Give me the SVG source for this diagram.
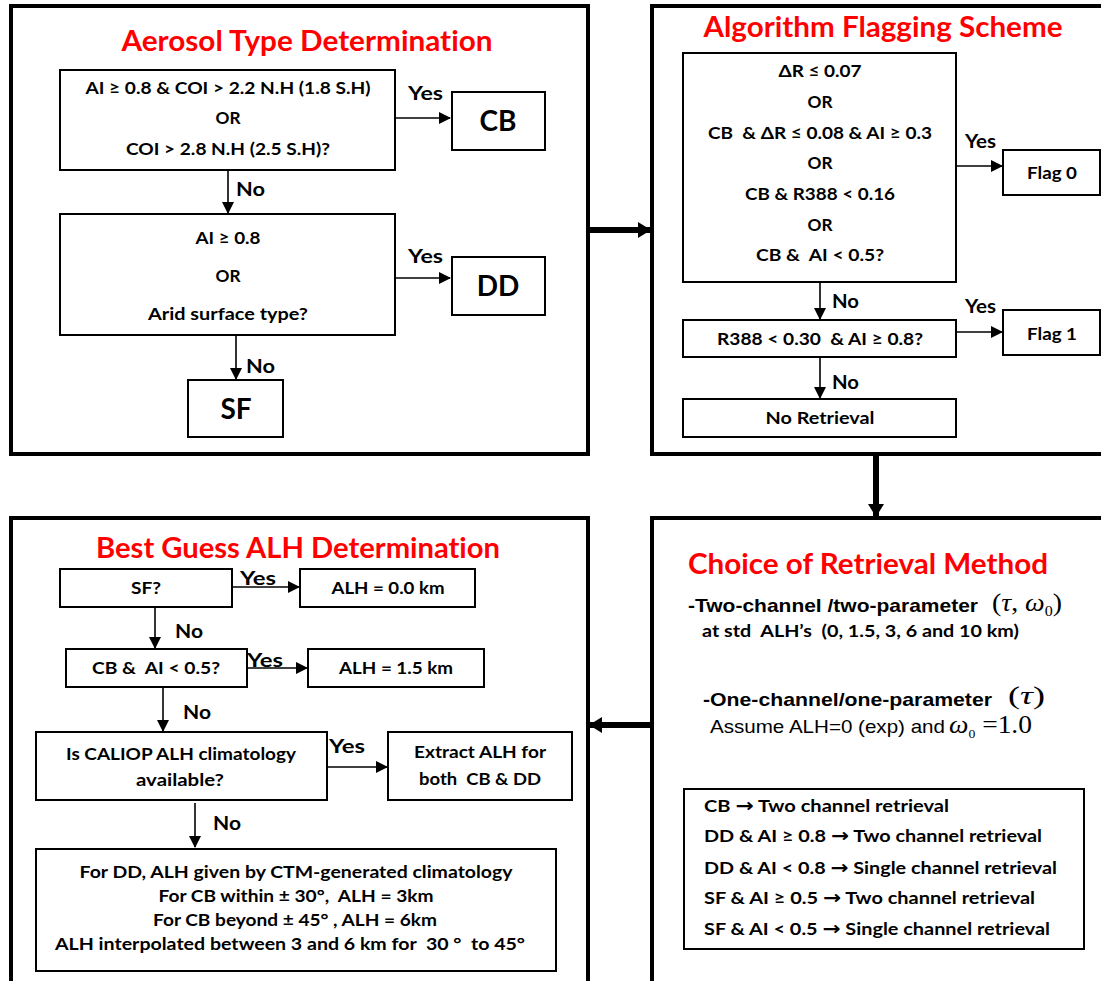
<svg xmlns="http://www.w3.org/2000/svg" width="1101" height="981" viewBox="0 0 1101 981" xml:space="preserve">
<defs>
<style>
.panel{fill:#fff;stroke:#000;stroke-width:4}
.box{fill:#fff;stroke:#000;stroke-width:2}
text{white-space:pre;font-variant-ligatures:none;font-feature-settings:"liga" 0,"clig" 0}
.t{font-family:Lato,"Liberation Sans",sans-serif;font-weight:bold;font-size:17.5px;fill:#000;text-anchor:middle}
.title{font-family:Lato,"Liberation Sans",sans-serif;font-weight:bold;font-size:29px;fill:#f00;text-anchor:middle}
.lbl{font-family:Lato,"Liberation Sans",sans-serif;font-weight:bold;font-size:19.5px;fill:#000}
.big{font-family:Lato,"Liberation Sans",sans-serif;font-weight:bold;font-size:28px;fill:#000;text-anchor:middle}
.ln{stroke:#000;stroke-width:1.6;fill:none}
.thick{stroke:#000;stroke-width:6;fill:none}
.ar{font-family:Arial,"Liberation Sans",sans-serif;fill:#000}
.math{font-family:"Liberation Serif",serif;font-size:26px;fill:#000}
.left{text-anchor:start}
.arr{font-family:"DejaVu Sans",sans-serif;font-weight:bold;font-size:19px}
</style>
<marker id="ah" markerWidth="12" markerHeight="12" refX="11" refY="6" orient="auto" markerUnits="userSpaceOnUse"><path d="M0,0 L12,6 L0,12 Z" fill="#000"/></marker>
<marker id="bh" markerWidth="18" markerHeight="18" refX="12" refY="9" orient="auto" markerUnits="userSpaceOnUse"><path d="M0,1 L13,9 L0,17 Z" fill="#000"/></marker>
</defs>
<rect width="1101" height="981" fill="#fff"/>

<!-- Panels -->
<g id="panel-aerosol">
<rect class="panel" x="11" y="6" width="577" height="448"/>
<text class="title" x="307" y="51" textLength="371" lengthAdjust="spacingAndGlyphs">Aerosol Type Determination</text>
</g>
<g id="panel-flag">
<rect class="panel" x="652" y="6" width="470" height="448"/>
<text class="title" x="883" y="37" textLength="359" lengthAdjust="spacingAndGlyphs">Algorithm Flagging Scheme</text>
</g>
<g id="panel-bestguess">
<rect class="panel" x="11" y="518" width="577" height="470"/>
<text class="title" x="298" y="558" textLength="404" lengthAdjust="spacingAndGlyphs">Best Guess ALH Determination</text>
</g>
<g id="panel-choice">
<rect class="panel" x="652" y="518" width="470" height="470"/>
<text class="title" x="868" y="574" textLength="360" lengthAdjust="spacingAndGlyphs">Choice of Retrieval Method</text>
</g>

<!-- Connectors -->
<g id="connectors">
<line class="ln" x1="395" y1="118" x2="450" y2="118" marker-end="url(#ah)"/>
<line class="ln" x1="228" y1="170" x2="228" y2="213" marker-end="url(#ah)"/>
<line class="ln" x1="395" y1="278" x2="450" y2="278" marker-end="url(#ah)"/>
<line class="ln" x1="236" y1="335" x2="236" y2="379" marker-end="url(#ah)"/>

<line class="ln" x1="956" y1="166" x2="1002" y2="166" marker-end="url(#ah)"/>
<line class="ln" x1="820" y1="282" x2="820" y2="319" marker-end="url(#ah)"/>
<line class="ln" x1="956" y1="332" x2="1002" y2="332" marker-end="url(#ah)"/>
<line class="ln" x1="820" y1="357" x2="820" y2="398" marker-end="url(#ah)"/>

<line class="ln" x1="232" y1="587" x2="299" y2="587" marker-end="url(#ah)"/>
<line class="ln" x1="155" y1="607" x2="155" y2="648" marker-end="url(#ah)"/>
<line class="ln" x1="247" y1="668" x2="307" y2="668" marker-end="url(#ah)"/>
<line class="ln" x1="163" y1="687" x2="163" y2="731" marker-end="url(#ah)"/>
<line class="ln" x1="327" y1="767" x2="387" y2="767" marker-end="url(#ah)"/>
<line class="ln" x1="195" y1="803" x2="195" y2="847" marker-end="url(#ah)"/>

<line class="thick" x1="590" y1="230" x2="650" y2="230" marker-end="url(#bh)"/>
<line class="thick" x1="876" y1="456" x2="876" y2="516" marker-end="url(#bh)"/>
<line class="thick" x1="650" y1="725" x2="590" y2="725" marker-end="url(#bh)"/>

<text class="lbl" x="408" y="100" textLength="35" lengthAdjust="spacingAndGlyphs">Yes</text>
<text class="lbl" x="236" y="196" textLength="29" lengthAdjust="spacingAndGlyphs">No</text>
<text class="lbl" x="408" y="263" textLength="35" lengthAdjust="spacingAndGlyphs">Yes</text>
<text class="lbl" x="246" y="373" textLength="29" lengthAdjust="spacingAndGlyphs">No</text>
<text class="lbl" x="965" y="148" textLength="31" lengthAdjust="spacingAndGlyphs">Yes</text>
<text class="lbl" x="832" y="308" textLength="27" lengthAdjust="spacingAndGlyphs">No</text>
<text class="lbl" x="965" y="313" textLength="31" lengthAdjust="spacingAndGlyphs">Yes</text>
<text class="lbl" x="832" y="389" textLength="27" lengthAdjust="spacingAndGlyphs">No</text>
<text class="lbl" x="240" y="585" textLength="36" lengthAdjust="spacingAndGlyphs">Yes</text>
<text class="lbl" x="175" y="638" textLength="28" lengthAdjust="spacingAndGlyphs">No</text>
<text class="lbl" x="247" y="667" textLength="36" lengthAdjust="spacingAndGlyphs">Yes</text>
<text class="lbl" x="183" y="719" textLength="28" lengthAdjust="spacingAndGlyphs">No</text>
<text class="lbl" x="329" y="753" textLength="36" lengthAdjust="spacingAndGlyphs">Yes</text>
<text class="lbl" x="213" y="830" textLength="28" lengthAdjust="spacingAndGlyphs">No</text>
</g>

<!-- Aerosol type nodes -->
<g id="q-cb">
<rect class="box" x="60" y="70" width="335" height="100"/>
<text class="t" x="228" y="94" textLength="285" lengthAdjust="spacingAndGlyphs">AI ≥ 0.8 &amp; COI &gt; 2.2 N.H (1.8 S.H)</text>
<text class="t" x="228" y="124" textLength="25" lengthAdjust="spacingAndGlyphs">OR</text>
<text class="t" x="228" y="155" textLength="204" lengthAdjust="spacingAndGlyphs">COI &gt; 2.8 N.H (2.5 S.H)?</text>
</g>
<g id="n-cb">
<rect class="box" x="452" y="92" width="93" height="58"/>
<text class="big" x="498" y="131">CB</text>
</g>
<g id="q-dd">
<rect class="box" x="60" y="214" width="335" height="121"/>
<text class="t" x="228" y="244" textLength="65" lengthAdjust="spacingAndGlyphs">AI ≥ 0.8</text>
<text class="t" x="228" y="282" textLength="25" lengthAdjust="spacingAndGlyphs">OR</text>
<text class="t" x="228" y="320" textLength="160" lengthAdjust="spacingAndGlyphs">Arid surface type?</text>
</g>
<g id="n-dd">
<rect class="box" x="452" y="257" width="93" height="58"/>
<text class="big" x="498" y="296">DD</text>
</g>
<g id="n-sf">
<rect class="box" x="188" y="380" width="95" height="57"/>
<text class="big" x="236" y="419">SF</text>
</g>

<!-- Flagging nodes -->
<g id="q-flag0">
<rect class="box" x="683" y="53" width="273" height="229"/>
<text class="t" x="820" y="77" textLength="83" lengthAdjust="spacingAndGlyphs">ΔR ≤ 0.07</text>
<text class="t" x="820" y="108" textLength="25" lengthAdjust="spacingAndGlyphs">OR</text>
<text class="t" x="820" y="139" textLength="224" lengthAdjust="spacingAndGlyphs">CB  &amp; ΔR ≤ 0.08 &amp; AI ≥ 0.3</text>
<text class="t" x="820" y="169" textLength="25" lengthAdjust="spacingAndGlyphs">OR</text>
<text class="t" x="820" y="200" textLength="150" lengthAdjust="spacingAndGlyphs">CB &amp; R388 &lt; 0.16</text>
<text class="t" x="820" y="231" textLength="25" lengthAdjust="spacingAndGlyphs">OR</text>
<text class="t" x="820" y="261" textLength="128" lengthAdjust="spacingAndGlyphs">CB &amp;  AI &lt; 0.5?</text>
</g>
<g id="n-flag0">
<rect class="box" x="1003" y="150" width="97" height="45"/>
<text class="t" x="1052" y="179" textLength="50" lengthAdjust="spacingAndGlyphs">Flag 0</text>
</g>
<g id="q-flag1">
<rect class="box" x="683" y="320" width="273" height="37"/>
<text class="t" x="820" y="345" textLength="206" lengthAdjust="spacingAndGlyphs">R388 &lt; 0.30  &amp; AI ≥ 0.8?</text>
</g>
<g id="n-flag1">
<rect class="box" x="1003" y="310" width="97" height="45"/>
<text class="t" x="1052" y="340" textLength="50" lengthAdjust="spacingAndGlyphs">Flag 1</text>
</g>
<g id="n-noretrieval">
<rect class="box" x="683" y="399" width="273" height="38"/>
<text class="t" x="820" y="424" textLength="109" lengthAdjust="spacingAndGlyphs">No Retrieval</text>
</g>

<!-- Best guess nodes -->
<g id="q-sf">
<rect class="box" x="60" y="569" width="172" height="38"/>
<text class="t" x="146" y="594" textLength="30" lengthAdjust="spacingAndGlyphs">SF?</text>
</g>
<g id="n-alh0">
<rect class="box" x="300" y="569" width="175" height="38"/>
<text class="t" x="388" y="594" textLength="113" lengthAdjust="spacingAndGlyphs">ALH = 0.0 km</text>
</g>
<g id="q-cbai">
<rect class="box" x="66" y="649" width="181" height="38"/>
<text class="t" x="156" y="674" textLength="128" lengthAdjust="spacingAndGlyphs">CB &amp;  AI &lt; 0.5?</text>
</g>
<g id="n-alh15">
<rect class="box" x="308" y="649" width="176" height="38"/>
<text class="t" x="396" y="674" textLength="114" lengthAdjust="spacingAndGlyphs">ALH = 1.5 km</text>
</g>
<g id="q-caliop">
<rect class="box" x="36" y="732" width="291" height="68"/>
<text class="t" x="181" y="760" textLength="230" lengthAdjust="spacingAndGlyphs">Is CALIOP ALH climatology</text>
<text class="t" x="180" y="786" textLength="88" lengthAdjust="spacingAndGlyphs">available?</text>
</g>
<g id="n-extract">
<rect class="box" x="388" y="732" width="184" height="68"/>
<text class="t" x="480" y="758" textLength="132" lengthAdjust="spacingAndGlyphs">Extract ALH for</text>
<text class="t" x="480" y="785" textLength="122" lengthAdjust="spacingAndGlyphs">both  CB &amp; DD</text>
</g>
<g id="n-ctm">
<rect class="box" x="36" y="849" width="520" height="122"/>
<text class="t" x="296" y="878" textLength="433" lengthAdjust="spacingAndGlyphs">For DD, ALH given by CTM-generated climatology</text>
<text class="t" x="296" y="902" textLength="275" lengthAdjust="spacingAndGlyphs">For CB within ± 30°,  ALH = 3km</text>
<text class="t" x="295" y="926" textLength="284" lengthAdjust="spacingAndGlyphs">For CB beyond ± 45° , ALH = 6km</text>
<text class="t" x="290" y="950" textLength="470" lengthAdjust="spacingAndGlyphs">ALH interpolated between 3 and 6 km for  30 °  to 45°</text>
</g>

<!-- Choice of retrieval method content -->
<g id="n-methods">
<text class="ar left" x="688" y="612" font-size="19" font-weight="bold" textLength="290" lengthAdjust="spacingAndGlyphs">-Two-channel /two-parameter</text>
<text class="math" x="992" y="611" textLength="70" lengthAdjust="spacingAndGlyphs">(<tspan font-style="italic">τ</tspan>, <tspan font-style="italic">ω</tspan><tspan font-size="15" dy="5">0</tspan><tspan dy="-5">)</tspan></text>
<text class="t left" x="702" y="637" textLength="317" lengthAdjust="spacingAndGlyphs">at std  ALH’s  (0, 1.5, 3, 6 and 10 km)</text>
<text class="ar left" x="703" y="706" font-size="19" font-weight="bold" textLength="289" lengthAdjust="spacingAndGlyphs">-One-channel/one-parameter</text>
<text class="math" x="1008" y="704" font-size="25" textLength="37" lengthAdjust="spacingAndGlyphs">(<tspan font-style="italic">τ</tspan>)</text>
<text class="ar left" x="710" y="733" font-size="19" textLength="235" lengthAdjust="spacingAndGlyphs">Assume ALH=0 (exp) and</text>
<text class="math" x="949" y="733" font-size="22" textLength="83" lengthAdjust="spacingAndGlyphs"><tspan font-style="italic">ω</tspan><tspan font-size="13" dy="5">0</tspan><tspan dy="-5"> =1.0</tspan></text>
</g>
<g id="n-rules">
<rect class="box" x="684" y="789" width="400" height="160"/>
<text class="t left" x="704" y="812" textLength="245" lengthAdjust="spacingAndGlyphs">CB <tspan class="arr">→</tspan> Two channel retrieval</text>
<text class="t left" x="704" y="842" textLength="338" lengthAdjust="spacingAndGlyphs">DD &amp; AI ≥ 0.8 <tspan class="arr">→</tspan> Two channel retrieval</text>
<text class="t left" x="704" y="874" textLength="353" lengthAdjust="spacingAndGlyphs">DD &amp; AI &lt; 0.8 <tspan class="arr">→</tspan> Single channel retrieval</text>
<text class="t left" x="704" y="904" textLength="331" lengthAdjust="spacingAndGlyphs">SF &amp; AI ≥ 0.5 <tspan class="arr">→</tspan> Two channel retrieval</text>
<text class="t left" x="704" y="935" textLength="346" lengthAdjust="spacingAndGlyphs">SF &amp; AI &lt; 0.5 <tspan class="arr">→</tspan> Single channel retrieval</text>
</g>
</svg>
